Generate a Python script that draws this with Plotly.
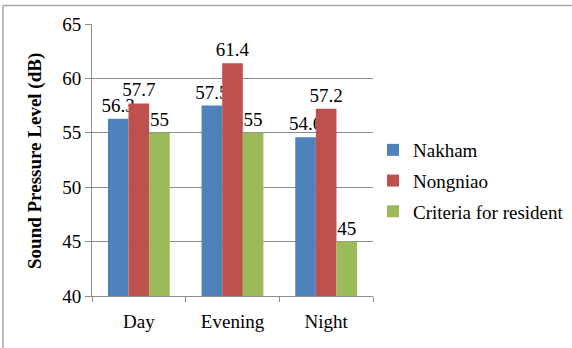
import plotly.graph_objects as go

periods = ["Day", "Evening", "Night"]
nakham = [56.3, 57.5, 54.6]
nongniao = [57.7, 61.4, 57.2]
criteria = [55, 55, 45]

series = [
    ("Nakham", nakham, "#4F81BD"),
    ("Nongniao", nongniao, "#C0504D"),
    ("Criteria for resident", criteria, "#9BBB59"),
]

FONT = "Liberation Serif"
FS = 19
GRID = "#8C8C8C"

fig = go.Figure()
for i, (name, vals, color) in enumerate(series):
    fig.add_trace(go.Bar(
        x=periods, y=vals, name=name,
        marker=dict(color=color, line=dict(width=0)),
        text=[f"{v:g}" for v in vals],
        textposition="outside",
        textfont=dict(family=FONT, size=FS, color="#000000"),
        constraintext="none",
        cliponaxis=False,
        legendgroup=f"g{i}",
    ))

W, H = 572, 348
L, R, T, B = 92, 199, 24, 52
pw, ph = W - L - R, H - T - B

def px_x(x):
    return (x - L) / pw

def px_y(y):
    return (H - B - y) / ph

fig.update_layout(
    width=W, height=H,
    margin=dict(l=L, r=R, t=T, b=B, autoexpand=False),
    paper_bgcolor="white", plot_bgcolor="white",
    barmode="group", bargap=0.34, bargroupgap=0,
    font=dict(family=FONT, size=FS, color="#000000"),
    showlegend=True,
    legend=dict(
        x=px_x(373), y=px_y(181), xanchor="left", yanchor="middle",
        font=dict(family=FONT, size=FS, color="#000000"),
        tracegroupgap=3, bgcolor="rgba(0,0,0,0)",
        itemwidth=30,
    ),
    xaxis=dict(
        type="category", showgrid=False,
        showline=True, linecolor=GRID, linewidth=1,
        ticks="outside", tickson="boundaries", ticklen=5, tickcolor=GRID,
        tickfont=dict(family=FONT, size=FS, color="#000000"),
        ticklabelstandoff=8,
    ),
    yaxis=dict(
        range=[40, 65], tick0=40, dtick=5,
        showgrid=True, gridcolor=GRID, gridwidth=1,
        showline=True, linecolor=GRID, linewidth=1,
        ticks="outside", ticklen=6, tickcolor=GRID,
        tickfont=dict(family=FONT, size=FS, color="#000000"),
        zeroline=False,
    ),
    annotations=[dict(
        text="<b>Sound Pressure Level (dB)</b>",
        xref="paper", yref="paper",
        x=px_x(35), y=px_y(161), xanchor="center", yanchor="middle",
        textangle=-90, showarrow=False,
        font=dict(family=FONT, size=19, color="#000000"),
    )],
    shapes=[
        dict(type="line", xref="paper", yref="paper",
             x0=px_x(3), x1=px_x(W + 2), y0=px_y(5.5), y1=px_y(5.5),
             line=dict(color="#A6A6A6", width=1.5)),
        dict(type="line", xref="paper", yref="paper",
             x0=px_x(3), x1=px_x(3), y0=px_y(5.5), y1=px_y(H + 2),
             line=dict(color="#A6A6A6", width=1.5)),
    ],
)

fig.write_html("out.html")
